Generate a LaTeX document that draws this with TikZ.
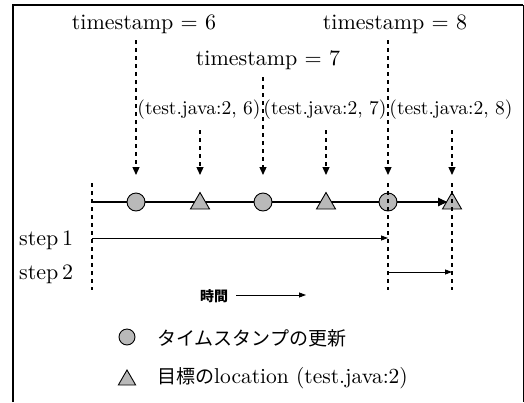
\documentclass[tikz,border=0pt]{standalone}
\usepackage{fontspec}
\setmainfont{lmroman10-regular.otf}
\newfontfamily\jpfont{Noto Sans CJK JP}
\usetikzlibrary{arrows.meta,shapes.geometric}
\begin{document}
\begin{tikzpicture}[x=1pt,y=-1pt,
  lbl/.style={inner sep=0pt, font=\fontsize{22}{26}\selectfont},
  loc/.style={inner sep=0pt, font=\fontsize{19.5}{22}\selectfont},
  circ/.style={circle, draw, line width=0.9pt, fill=gray!55, minimum size=18pt, inner sep=0pt},
  tri/.style={regular polygon, regular polygon sides=3, draw, line width=0.9pt, fill=gray!55, minimum size=22pt, inner sep=0pt},
  guide/.style={dash pattern=on 4pt off 4pt, line width=1.3pt},
  drop/.style={guide, -{Triangle[length=8pt,width=7pt]}},
  span/.style={line width=0.8pt, -{Triangle[length=7pt,width=5pt]}},
  legend/.style={inner sep=0pt, anchor=west, font=\fontsize{19}{22}\selectfont}
]
\useasboundingbox (0,0) rectangle (524,402);
% frame
\draw[line width=2pt] (13,402) -- (13,5) -- (523,5);
\draw[line width=1pt] (523,5) -- (523,402);

% top labels
\node[lbl] (ts6) at (144,24) {timestamp = 6};
\node[lbl] (ts8) at (395,24) {timestamp = 8};
\node[lbl] (ts7) at (268,60) {timestamp = 7};
\node[loc] (l6) at (199,110) {(test.java:2, 6)};
\node[loc] (l7) at (325,110) {(test.java:2, 7)};
\node[loc] (l8) at (451,110) {(test.java:2, 8)};

% markers
\coordinate (start) at (92,202);
\coordinate (tipend) at (447,202);
\draw[line width=1.8pt, -{Triangle[length=9pt,width=8pt]}] (start) -- (tipend);
\node[circ] (c1) at (136,202) {};
\node[tri]  (t1) at (200,203.5) {};
\node[circ] (c2) at (263,202) {};
\node[tri]  (t2) at (326,203.5) {};
\node[circ] (c3) at (388,202) {};
\node[tri]  (t3) at (452,203.5) {};
\draw[line width=1.8pt, -{Triangle[length=9pt,width=8pt]}] (430,202) -- (tipend);

% dropping dashed arrows
\coordinate (a1) at (136,40);  \coordinate (b1) at (136,175);
\coordinate (a2) at (200,130); \coordinate (b2) at (200,175);
\coordinate (a3) at (263,77);  \coordinate (b3) at (263,175);
\coordinate (a4) at (326,130); \coordinate (b4) at (326,175);
\coordinate (a5) at (388,40);  \coordinate (b5) at (388,175);
\coordinate (a6) at (452,130); \coordinate (b6) at (452,175);
\foreach \i in {1,...,6} \draw[drop] (a\i) -- (b\i);

% lower dashed verticals
\coordinate (v0t) at (92,183);  \coordinate (v0b) at (92,290);
\coordinate (v1t) at (388,183); \coordinate (v1b) at (388,290);
\coordinate (v2t) at (452,183); \coordinate (v2b) at (452,290);
\draw[guide] (v0t) -- (v0b);
\draw[guide] (v1t) -- (v1b);
\draw[guide] (v2t) -- (v2b);

% steps
\node[lbl, anchor=west] (s1) at (19,240) {step\,1};
\node[lbl, anchor=west] (s2) at (19,274) {step\,2};
\coordinate (s1a) at (92,238);  \coordinate (s1b) at (388,238);
\coordinate (s2a) at (388,272); \coordinate (s2b) at (452,272);
\draw[span] (s1a) -- (s1b);
\draw[span] (s2a) -- (s2b);

% time arrow
\node[inner sep=0pt, font=\jpfont\bfseries\fontsize{14}{16}\selectfont] (time) at (214,296) {時間};
\coordinate (tm) at (306,295);
\draw[line width=0.8pt, -{Triangle[length=7pt,width=5pt]}] (236,295) -- (tm);

% legend
\node[circ, minimum size=16pt] (lc) at (127,337) {};
\node[tri, minimum size=20pt] (lt) at (127,380) {};
\node[legend] (lct) at (157,338) {\jpfont タイムスタンプの更新};
\node[legend] (ltt) at (157,378) {{\jpfont 目標の}{\fontsize{21.5}{24}\selectfont location (test.java:2)}};
\end{tikzpicture}
\end{document}
